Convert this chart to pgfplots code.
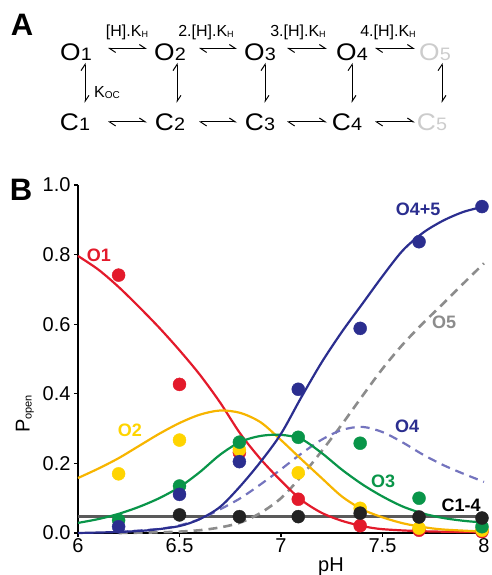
\documentclass[border=0pt]{standalone}
\usepackage{pgfplots}
\pgfplotsset{compat=1.18}
\usepackage{fontspec}
\setmainfont{Liberation Sans}
\usetikzlibrary{arrows.meta}
\definecolor{cRed}{HTML}{E31A2B}
\definecolor{cYelL}{HTML}{F7B500}
\definecolor{cYelM}{HTML}{FFD400}
\definecolor{cGreen}{HTML}{099549}
\definecolor{cNavy}{HTML}{2B2E8F}
\definecolor{cLav}{HTML}{7474BE}
\definecolor{cGrayD}{HTML}{8C8C8C}
\definecolor{cBlack}{HTML}{222222}
\definecolor{cGrayL}{HTML}{5A5A5A}
\definecolor{cPale}{HTML}{CCCCCC}
\newcommand{\fs}[1]{\fontsize{#1}{#1}\selectfont}
\newcommand{\st}[2]{\scalebox{1.1}[1]{{\fs{24}#1}{\fs{18}#2}}}
\begin{document}
\begin{tikzpicture}
\path[use as bounding box] (-78pt,-42pt) rectangle (414pt,533pt);
% ---------- Panel A scheme ----------
\node[font=\fs{31}\bfseries] at (-56pt,508pt) {A};
\node[font=\fs{31}\bfseries] at (-57pt,343pt) {B};
\foreach \x/\n in {-2/1,92/2,182/3,274/4}{
  \node[anchor=base] at (\x pt,472pt) {\st{O}{\n}};
}
\node[anchor=base,text=cPale] at (357pt,472pt) {\st{O}{5}};
\foreach \x/\n in {-3/1,92/2,182/3,269/4}{
  \node[anchor=base] at (\x pt,402pt) {\st{C}{\n}};
}
\node[anchor=base,text=cPale] at (354pt,402pt) {\st{C}{5}};
\tikzset{eq/.style={line width=1pt,{Straight Barb[harpoon,length=6pt,width=8pt]}-{Straight Barb[harpoon,length=6pt,width=8pt]}}}
\foreach \a/\b in {30/69,121/159,209/249,297/337}{
  \draw[eq] (\a pt,484.5pt) -- (\b pt,484.5pt);
  \draw[eq] (\a pt,411pt) -- (\b pt,411pt);
}
\foreach \x in {7,99,187,274,364}{
  \draw[eq] (\x pt,430pt) -- (\x pt,470pt);
}
\node[font=\fs{16}] at (49pt,501pt) {[H].K{\fs{9}\raisebox{-1pt}{H}}};
\node[font=\fs{16}] at (128pt,501pt) {2.[H].K{\fs{9}\raisebox{-1pt}{H}}};
\node[font=\fs{16}] at (220pt,501pt) {3.[H].K{\fs{9}\raisebox{-1pt}{H}}};
\node[font=\fs{16}] at (310pt,501pt) {4.[H].K{\fs{9}\raisebox{-1pt}{H}}};
\node[font=\fs{16}] at (29pt,440pt) {K{\fs{10}\raisebox{-1pt}{OC}}};
% ---------- Panel B ----------
\begin{axis}[
  scale only axis, width=406pt, height=348pt,
  xmin=6, xmax=8, ymin=0, ymax=1,
  axis x line*=bottom, axis y line*=left,
  axis line style={line width=1.1pt,black},
  tick align=outside, major tick length=4pt,
  tick style={line width=1.1pt,black},
  xtick={6,6.5,7,7.5,8}, xticklabels={6,6.5,7,7.5,8},
  ytick={0,0.2,0.4,0.6,0.8,1.0}, yticklabels={0.0,0.2,0.4,0.6,0.8,1.0},
  ticklabel style={font=\fs{20}},
  xticklabel style={yshift=2pt},
  clip=false,
]
% horizontal C1-4 line
\addplot[cGrayL, line width=2.6pt] coordinates {(6,0.048) (8,0.048)};
% O5 dashed
\addplot[cGrayD, line width=2.6pt, dash pattern=on 9pt off 6pt, smooth] coordinates {
(6.2,0) (6.4,0.002) (6.5,0.004) (6.6,0.008) (6.7,0.016) (6.8,0.03) (6.9,0.058) (7.0,0.10) (7.1,0.163) (7.2,0.235) (7.3,0.312) (7.4,0.393) (7.5,0.472) (7.6,0.542) (7.7,0.603) (7.8,0.66) (7.9,0.718) (8.0,0.775)};
% O4 dashed
\addplot[cLav, line width=2.2pt, dash pattern=on 9pt off 6pt, smooth] coordinates {
(6.2,0.003) (6.4,0.012) (6.5,0.022) (6.6,0.04) (6.7,0.068) (6.8,0.10) (6.9,0.14) (7.0,0.183) (7.1,0.228) (7.2,0.268) (7.3,0.296) (7.4,0.305) (7.5,0.29) (7.6,0.26) (7.7,0.225) (7.8,0.195) (7.9,0.17) (8.0,0.147)};
% O1 red
\addplot[cRed, line width=2.2pt, smooth] coordinates {
(6.0,0.796) (6.1,0.757) (6.2,0.707) (6.3,0.65) (6.4,0.59) (6.5,0.525) (6.6,0.455) (6.7,0.375) (6.8,0.285) (6.9,0.212) (7.0,0.15) (7.1,0.095) (7.2,0.058) (7.3,0.035) (7.4,0.02) (7.5,0.011) (7.7,0.005) (8.0,0.002)};
% O2 yellow
\addplot[cYelL, line width=2.2pt, smooth] coordinates {
(6.0,0.158) (6.1,0.185) (6.2,0.215) (6.3,0.25) (6.4,0.285) (6.5,0.316) (6.6,0.34) (6.7,0.352) (6.8,0.345) (6.9,0.318) (7.0,0.267) (7.1,0.212) (7.2,0.158) (7.3,0.105) (7.4,0.068) (7.5,0.045) (7.6,0.028) (7.7,0.017) (7.8,0.01) (8.0,0.004)};
% O3 green
\addplot[cGreen, line width=2.2pt, smooth] coordinates {
(6.0,0.029) (6.1,0.04) (6.2,0.055) (6.3,0.075) (6.4,0.10) (6.5,0.132) (6.6,0.175) (6.7,0.225) (6.8,0.262) (6.9,0.279) (7.0,0.282) (7.1,0.27) (7.2,0.23) (7.3,0.182) (7.4,0.14) (7.5,0.105) (7.6,0.076) (7.7,0.056) (7.8,0.043) (7.9,0.035) (8.0,0.03)};
% O4+5 navy
\addplot[cNavy, line width=2.2pt, smooth] coordinates {
(6.0,0.0) (6.2,0.003) (6.35,0.008) (6.5,0.02) (6.6,0.04) (6.7,0.075) (6.8,0.135) (6.9,0.205) (7.0,0.285) (7.1,0.39) (7.2,0.49) (7.3,0.578) (7.4,0.658) (7.5,0.738) (7.6,0.812) (7.7,0.863) (7.8,0.898) (7.9,0.923) (8.0,0.938)};
% markers
\addplot[only marks, mark=*, mark size=6.5pt, color=cRed] coordinates {
(6.2,0.741) (6.5,0.427) (6.795,0.231) (7.085,0.097) (7.39,0.021) (7.68,0.008) (7.99,0.004)};
\addplot[only marks, mark=*, mark size=6.5pt, color=cYelM] coordinates {
(6.2,0.17) (6.5,0.267) (6.795,0.239) (7.085,0.173) (7.39,0.071) (7.68,0.014) (7.99,0.008)};
\addplot[only marks, mark=*, mark size=6.5pt, color=cGreen] coordinates {
(6.2,0.037) (6.5,0.135) (6.795,0.261) (7.085,0.275) (7.39,0.258) (7.68,0.10) (7.99,0.018)};
\addplot[only marks, mark=*, mark size=6.5pt, color=cNavy] coordinates {
(6.2,0.018) (6.5,0.111) (6.795,0.205) (7.085,0.413) (7.39,0.588) (7.68,0.837) (7.99,0.938)};
\addplot[only marks, mark=*, mark size=6.5pt, color=cBlack] coordinates {
(6.5,0.052) (6.795,0.047) (7.085,0.047) (7.39,0.057) (7.68,0.046) (7.99,0.043)};
% series labels
\node[font=\fs{18}\bfseries, text=cRed] at (axis cs:6.103,0.799) {O1};
\node[font=\fs{18}\bfseries, text=cYelM] at (axis cs:6.256,0.296) {O2};
\node[font=\fs{18}\bfseries, text=cGreen] at (axis cs:7.503,0.149) {O3};
\node[font=\fs{18}\bfseries, text=cNavy] at (axis cs:7.621,0.307) {O4};
\node[font=\fs{18}\bfseries, text=cNavy] at (axis cs:7.675,0.931) {O4+5};
\node[font=\fs{18}\bfseries, text=cGrayD] at (axis cs:7.803,0.606) {O5};
\node[font=\fs{18}\bfseries, text=black] at (axis cs:7.887,0.080) {C1-4};
\end{axis}
\node[anchor=base,font=\fs{20}] at (253pt,-38pt) {pH};
\node[rotate=90,font=\fs{20}] at (-53pt,119pt) {P{\fs{11}\raisebox{-2pt}{open}}};
\end{tikzpicture}
\end{document}
